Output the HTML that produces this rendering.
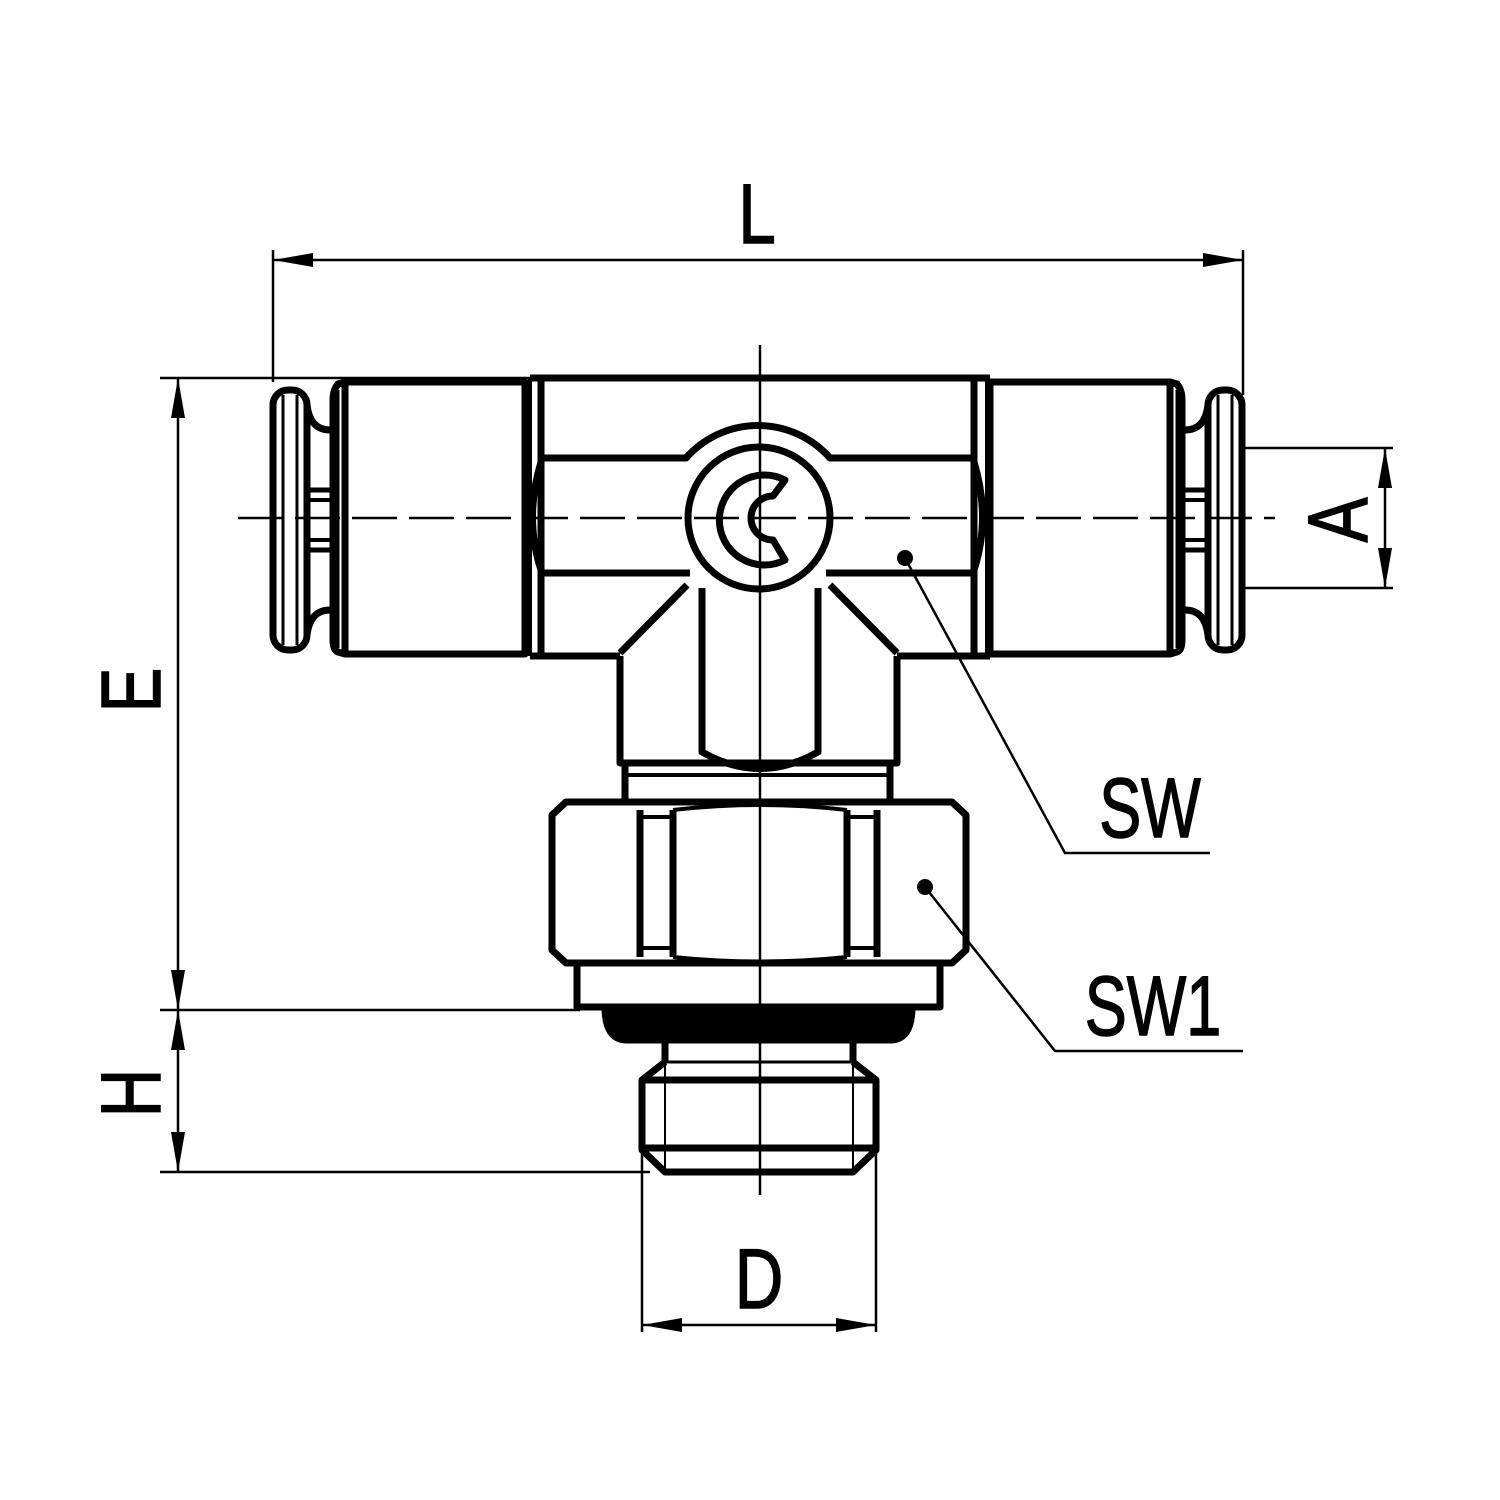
<!DOCTYPE html>
<html><head><meta charset="utf-8"><style>html,body{margin:0;padding:0;background:#fff}svg{display:block}text{font-family:"Liberation Sans",sans-serif;fill:#000;stroke:#000;stroke-width:1.5}</style></head><body>
<svg width="1500" height="1500" viewBox="0 0 1500 1500" xmlns="http://www.w3.org/2000/svg">
<defs>
<marker id="ar" viewBox="0 0 20 7" refX="20" refY="3.5" markerWidth="42" markerHeight="14" markerUnits="userSpaceOnUse" orient="auto-start-reverse"><path d="M0,0 L20,3.5 L0,7 z" fill="#000"/></marker>
<g id="end" fill="none" stroke="#000" stroke-width="7" stroke-linejoin="round">
  <rect x="273" y="390" width="34" height="260" rx="15"/>
  <line x1="283" y1="395" x2="283" y2="645" stroke-width="3"/>
  <line x1="297" y1="395" x2="297" y2="645" stroke-width="3"/>
  <path d="M307,405 Q310,430 330,430 M307,635 Q310,610 330,610"/>
  <line x1="307" y1="490" x2="332" y2="490" stroke-width="5"/>
  <line x1="307" y1="500" x2="332" y2="500" stroke-width="4"/>
  <line x1="307" y1="540" x2="332" y2="540" stroke-width="4"/>
  <line x1="307" y1="550" x2="332" y2="550" stroke-width="5"/>
  <path d="M345,382 L338,384 Q333,390 333,400 L333,640 Q333,650 338,652 L345,654"/>
  <line x1="338" y1="390" x2="338" y2="648" stroke-width="3"/>
  <rect x="345" y="382" width="180" height="272"/>
  <line x1="541" y1="380" x2="541" y2="655"/>
  <path d="M541,458 L610,458 M541,573 L610,573"/>
  <path d="M541,462 Q524,518 541,570" />
</g>
</defs>
<g stroke="#000" fill="none">
<use href="#end"/>
<use href="#end" transform="translate(1515,0) scale(-1,1)"/>
<g stroke-width="7" stroke-linejoin="round">
  <path d="M530,378 L990,378 M530,656 L620,656 M897,656 L990,656"/>
  <line x1="530" y1="378" x2="530" y2="656" stroke-width="4"/>
  <line x1="987" y1="378" x2="987" y2="656" stroke-width="4"/>
  <path d="M610,458 L686,458 A96,96 0 0 1 830,458 L905,458"/>
  <path d="M610,573 L690,573 M826,573 L905,573"/>
  <circle cx="759" cy="518" r="71"/>
  <path d="M785,480 A45,45 0 1 0 785,560 L773,540 A22,22 0 1 1 773,496 Z"/>
  <path d="M620,656 L620,763 L897,763 L897,656 M620,653 L687,585 M897,653 L830,585"/>
  <path d="M702,588 L702,752 Q760,785 818,752 L818,588"/>
  <path d="M625,763 L625,800 M890,763 L890,800"/>
  <line x1="625" y1="775" x2="890" y2="775" stroke-width="4"/>
  <path d="M566,802 L952,802 L966,815 L966,950 L952,963 L566,963 L552,950 L552,815 Z"/>
  <path d="M640,810 L640,957 M673,810 L673,957 M847,810 L847,957 M877,810 L877,957"/>
  <path d="M643,817 L673,817 M643,948 L673,948 M847,817 L877,817 M847,948 L877,948" stroke-width="4"/>
  <path d="M673,810 Q760,800 847,810 M673,957 Q760,966 847,957" stroke-width="4"/>
  <rect x="577" y="963" width="363" height="44"/>
  <path d="M605,1007 L912,1007 Q912,1040 890,1040 L627,1040 Q605,1040 605,1007 Z" fill="#000"/>
  <path d="M665,1040 L665,1062 M853,1040 L853,1062 M665,1062 L642,1080 L642,1150 L665,1172 L853,1172 L876,1150 L876,1080 L853,1062"/>
  <path d="M642,1080 L876,1080 M642,1148 L876,1148" />
  <path d="M665,1062 L853,1062" stroke-width="3"/>
  <path d="M665,1062 L665,1172 M853,1062 L853,1172" stroke-width="2"/>
</g>
<g stroke-width="2.5">
  <line x1="760" y1="345" x2="760" y2="1195"/>
  <line x1="238" y1="518" x2="1275" y2="518" stroke-dasharray="45,12"/>
  <line x1="273" y1="250" x2="273" y2="382"/>
  <line x1="1243" y1="250" x2="1243" y2="395"/>
  <line x1="273" y1="260" x2="1243" y2="260" marker-start="url(#ar)" marker-end="url(#ar)"/>
  <line x1="160" y1="378" x2="530" y2="378"/>
  <line x1="160" y1="1010" x2="580" y2="1010"/>
  <line x1="160" y1="1172" x2="650" y2="1172"/>
  <line x1="178" y1="378" x2="178" y2="1010" marker-start="url(#ar)" marker-end="url(#ar)"/>
  <line x1="178" y1="1010" x2="178" y2="1172" marker-start="url(#ar)" marker-end="url(#ar)"/>
  <line x1="1245" y1="448" x2="1393" y2="448"/>
  <line x1="1245" y1="588" x2="1393" y2="588"/>
  <line x1="1385" y1="448" x2="1385" y2="588" marker-start="url(#ar)" marker-end="url(#ar)"/>
  <line x1="642" y1="1150" x2="642" y2="1332"/>
  <line x1="876" y1="1150" x2="876" y2="1332"/>
  <line x1="642" y1="1325" x2="876" y2="1325" marker-start="url(#ar)" marker-end="url(#ar)"/>
  <path d="M905,558 L1065,853 L1210,853"/>
  <path d="M925,887 L1055,1051 L1243,1051"/>
</g>
<circle cx="905" cy="558" r="8" fill="#000" stroke="none"/>
<circle cx="925" cy="887" r="8" fill="#000" stroke="none"/>
</g>
<g font-size="84">
<text x="757" y="243" text-anchor="middle" transform="translate(757,0) scale(0.8,1) translate(-757,0)">L</text>
<text x="1150" y="837" text-anchor="middle" transform="translate(1150,0) scale(0.75,1) translate(-1150,0)">SW</text>
<text x="1153" y="1035" text-anchor="middle" transform="translate(1153,0) scale(0.75,1) translate(-1153,0)">SW1</text>
<text x="759" y="1308" text-anchor="middle" transform="translate(759,0) scale(0.8,1) translate(-759,0)">D</text>
<text transform="translate(160,690) rotate(-90) scale(0.8,1)" text-anchor="middle">E</text>
<text transform="translate(160,1093) rotate(-90) scale(0.8,1)" text-anchor="middle">H</text>
<text transform="translate(1367,520) rotate(-90) scale(0.8,1)" text-anchor="middle">A</text>
</g>
</svg>
</body></html>
